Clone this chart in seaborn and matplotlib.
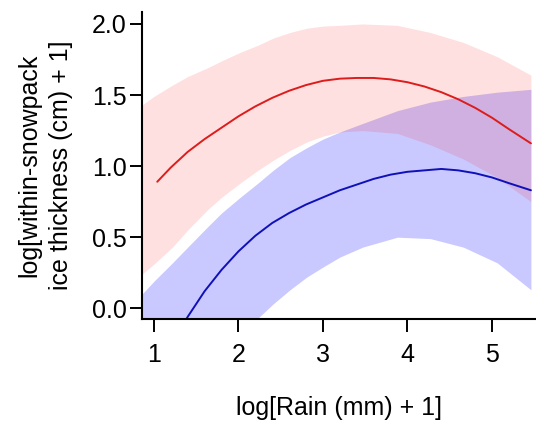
import numpy as np
import pandas as pd
import matplotlib
matplotlib.use("Agg")
import matplotlib.pyplot as plt
import seaborn as sns

# fitted lines
red_x = [1.04, 1.2, 1.4, 1.6, 1.8, 2.0, 2.2, 2.4, 2.6, 2.8, 3.0, 3.2, 3.4, 3.6,
         3.8, 4.0, 4.2, 4.4, 4.6, 4.8, 5.0, 5.2, 5.46]
red_y = [0.89, 0.99, 1.10, 1.19, 1.27, 1.35, 1.42, 1.48, 1.53, 1.57, 1.60, 1.615,
         1.62, 1.62, 1.61, 1.59, 1.56, 1.52, 1.47, 1.41, 1.34, 1.26, 1.16]

blue_x = [1.0, 1.2, 1.4, 1.6, 1.8, 2.0, 2.2, 2.4, 2.6, 2.8, 3.0, 3.2, 3.4, 3.6,
          3.8, 4.0, 4.2, 4.4, 4.6, 4.8, 5.0, 5.2, 5.46]
blue_y = [-0.48, -0.26, -0.06, 0.12, 0.27, 0.40, 0.51, 0.60, 0.67, 0.73, 0.78,
          0.83, 0.87, 0.91, 0.94, 0.96, 0.97, 0.98, 0.97, 0.95, 0.92, 0.88, 0.83]

# confidence bands
band_x = [0.86, 1.0, 1.22, 1.4, 1.63, 1.8, 2.02, 2.23, 2.41, 2.61, 2.81, 3.0,
          3.2, 3.47, 3.88, 4.27, 4.66, 5.06, 5.46]
red_lo = [0.24, 0.31, 0.43, 0.55, 0.69, 0.78, 0.88, 0.97, 1.04, 1.11, 1.17, 1.21,
          1.24, 1.25, 1.23, 1.15, 1.05, 0.92, 0.75]
red_hi = [1.43, 1.49, 1.57, 1.63, 1.69, 1.74, 1.80, 1.85, 1.90, 1.94, 1.97, 1.985,
          1.99, 2.00, 1.99, 1.94, 1.87, 1.77, 1.64]
blue_lo = [-0.95, -0.85, -0.68, -0.55, -0.40, -0.29, -0.17, -0.07, 0.03, 0.13,
           0.22, 0.29, 0.36, 0.43, 0.50, 0.49, 0.43, 0.32, 0.13]
blue_hi = [0.10, 0.19, 0.32, 0.43, 0.57, 0.67, 0.78, 0.88, 0.97, 1.06, 1.13, 1.19,
           1.24, 1.30, 1.39, 1.45, 1.49, 1.52, 1.54]

xticks = [1, 2, 3, 4, 5]
yticks = [0.0, 0.5, 1.0, 1.5, 2.0]

sns.set_style("ticks")
plt.rcParams["font.family"] = ["Liberation Sans", "DejaVu Sans"]
plt.rcParams["text.color"] = "black"
plt.rcParams["axes.labelcolor"] = "black"
plt.rcParams["xtick.color"] = "black"
plt.rcParams["ytick.color"] = "black"

fig = plt.figure(figsize=(5.36, 4.23), dpi=100)
ax = fig.add_axes([0.265, 0.246, 0.735, 0.726])

ax.fill_between(band_x, blue_lo, blue_hi, color=(0.0, 0.0, 1.0), alpha=0.21, lw=0)
ax.fill_between(band_x, red_lo, red_hi, color=(1.0, 0.0, 0.0), alpha=0.12, lw=0)

df_red = pd.DataFrame({"x": red_x, "y": red_y})
df_blue = pd.DataFrame({"x": blue_x, "y": blue_y})
sns.lineplot(data=df_red, x="x", y="y", color="#dd1c1c", lw=1.4, ax=ax)
sns.lineplot(data=df_blue, x="x", y="y", color="#1010b8", lw=1.4, ax=ax)

ax.set_xlim(0.86, 5.52)
ax.set_ylim(-0.075, 2.085)
ax.set_xticks(xticks)
ax.set_xticklabels([str(t) for t in xticks])
ax.set_yticks(yticks)
ax.set_yticklabels(["%.1f" % t for t in yticks])

for s in ["top", "right"]:
    ax.spines[s].set_visible(False)
for s in ["left", "bottom"]:
    ax.spines[s].set_linewidth(1.5)
    ax.spines[s].set_color("black")

ax.tick_params(axis="both", length=9, width=1.4, labelsize=18)
ax.tick_params(axis="x", pad=8)
ax.tick_params(axis="y", pad=2)

ax.set_xlabel("log[Rain (mm) + 1]", fontsize=18)
ax.set_ylabel("log[within-snowpack\nice thickness (cm) + 1]", fontsize=18, linespacing=1.4)
ax.xaxis.set_label_coords(0.5, -0.25)
ax.yaxis.set_label_coords(-0.175, 0.5)

fig.savefig("out.png", dpi=100)
plt.close()
